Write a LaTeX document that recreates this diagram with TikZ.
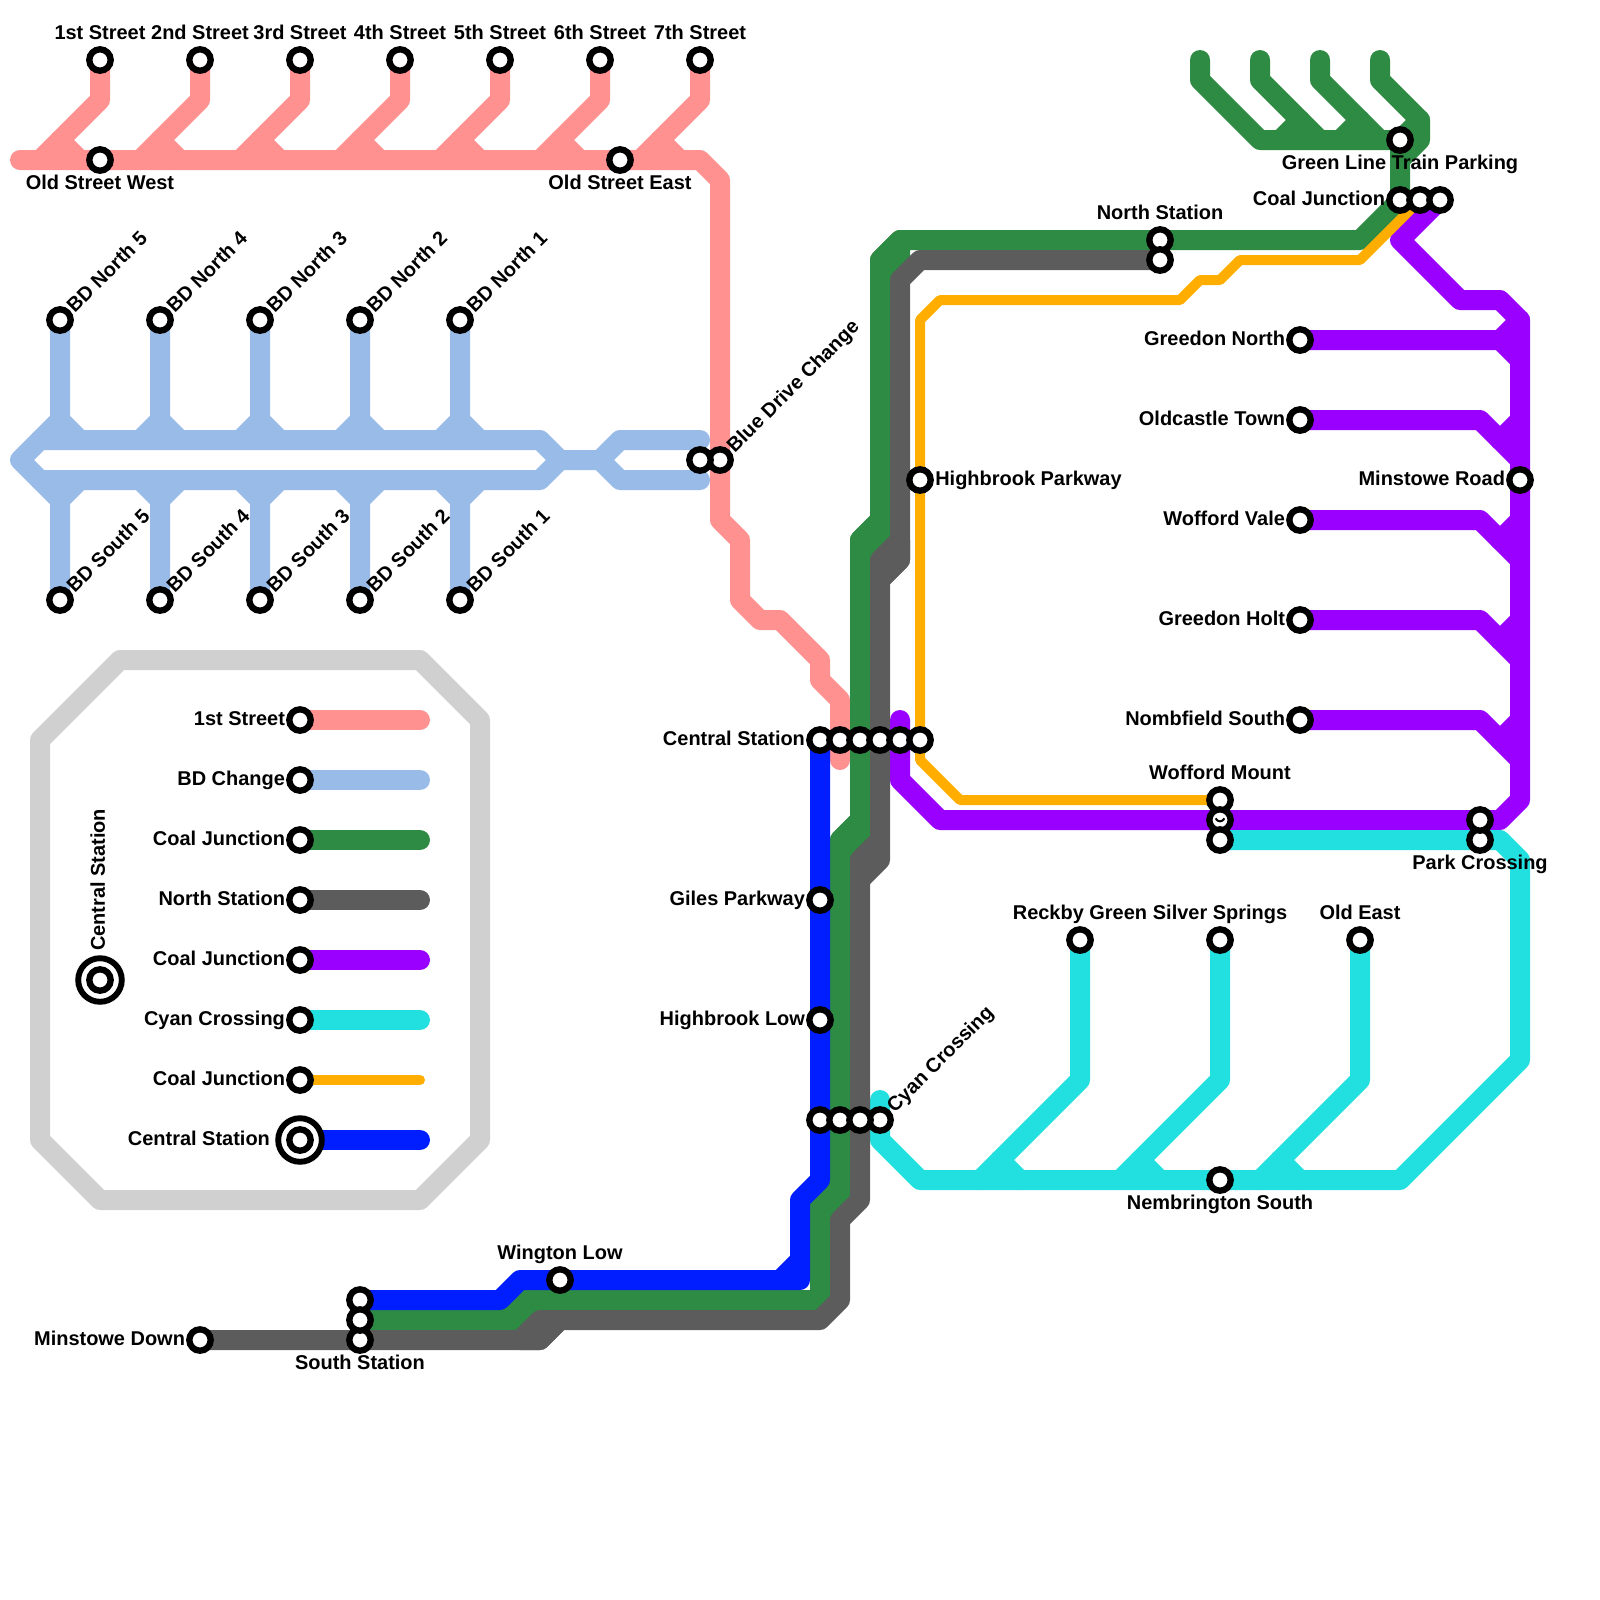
\documentclass[tikz,border=0pt]{standalone}
\usepackage{fontspec}
\setmainfont{Liberation Sans}
\usepackage{xcolor}
\definecolor{linepink}{HTML}{FF9191}
\definecolor{linesky}{HTML}{99BBE8}
\definecolor{linegreen}{HTML}{2E8B43}
\definecolor{linegrey}{HTML}{5C5C5C}
\definecolor{linepurple}{HTML}{9900FF}
\definecolor{linecyan}{HTML}{22E0E0}
\definecolor{lineorange}{HTML}{FFAE00}
\definecolor{lineblue}{HTML}{001EFF}
\definecolor{framegrey}{HTML}{D0D0D0}

\begin{document}
\begin{tikzpicture}[
  x=5mm, y=-5mm,
  every node/.style={font=\fontsize{14.2}{16}\selectfont\bfseries},
  metro/.style={line width=5mm, line cap=round, line join=round},
  thinmetro/.style={line width=2.5mm, line cap=round, line join=round},
  stn/.style={circle, draw=black, fill=white, line width=4.5pt, minimum size=15.2pt, inner sep=0pt},
  bigstn/.style={circle, draw=black, fill=white, line width=4.2pt, minimum size=31pt, inner sep=0pt},
  lblleft/.style={anchor=base east, inner sep=0pt, shift={(-10.5pt,-3.6pt)}},
  lblright/.style={anchor=base west, inner sep=0pt, shift={(10.7pt,-3.6pt)}},
  lblabove/.style={anchor=base, inner sep=0pt, shift={(0pt,14.3pt)}},
  lblbelow/.style={anchor=base, inner sep=0pt, shift={(0pt,-21.3pt)}},
  lbldiag/.style={anchor=base west, inner sep=0pt, rotate=45, shift={(10.5pt,-4.2pt)}},
]
\useasboundingbox (0,0) rectangle (80,80);

%%% Legend frame %%%
\draw[metro, framegrey] (6,33) -- (21,33) -- (24,36) -- (24,57) -- (21,60)
  -- (5,60) -- (2,57) -- (2,37) -- cycle;

%%% Lines %%%
% Pink line and its street branches
\draw[metro, linepink] (1,8) -- (35,8) -- (36,9) -- (36,26) -- (37,27) -- (37,30) -- (38,31)
  -- (39,31) -- (41,33) -- (41,34) -- (42,35) -- (42,38);
\foreach \x in {5,10,...,35} {
  \draw[metro, linepink] (\x,3) -- (\x,5) -- (\x-3,8);
  \draw[metro, linepink] (\x-2,7) -- (\x-1,8);
}

% Sky line loop and BD branches
\draw[metro, linesky] (2,22) -- (27,22) -- (28,23) -- (27,24) -- (2,24) -- (1,23) -- cycle;
\draw[metro, linesky] (28,23) -- (30,23) -- (31,22) -- (35,22);
\draw[metro, linesky] (30,23) -- (31,24) -- (35,24);
\foreach \x in {3,8,...,23} {
  \draw[metro, linesky] (\x,16) -- (\x,21) -- (\x+1,22);
  \draw[metro, linesky] (\x,21) -- (\x-1,22);
  \draw[metro, linesky] (\x,30) -- (\x,25) -- (\x+1,24);
  \draw[metro, linesky] (\x,25) -- (\x-1,24);
}

% Purple line and its branches
\draw[metro, linepurple] (45,36) -- (45,39) -- (47,41) -- (75,41) -- (76,40) -- (76,16)
  -- (75,15) -- (73,15) -- (70,12) -- (72,10);
\draw[metro, linepurple] (65,17) -- (75,17) -- (76,18);
\draw[metro, linepurple] (75,17) -- (76,16);
\foreach \y in {21,26,31,36} {
  \draw[metro, linepurple] (65,\y) -- (74,\y) -- (76,\y+2);
  \draw[metro, linepurple] (75,\y+1) -- (76,\y);
}

% Cyan line and its branches
\draw[metro, linecyan] (44,55) -- (44,57) -- (46,59) -- (70,59) -- (76,53) -- (76,43)
  -- (75,42) -- (61,42);
\foreach \x in {54,61,68} {
  \draw[metro, linecyan] (\x,47) -- (\x,54) -- (\x-5,59);
  \draw[metro, linecyan] (\x-4,58) -- (\x-3,59);
}

% Green line and the fork at the top
\draw[metro, linegreen] (18,66) -- (26,66) -- (27,65) -- (41,65) -- (41,60) -- (42,59) -- (42,42)
  -- (43,41) -- (43,27) -- (44,26) -- (44,13) -- (45,12) -- (68,12) -- (70,10) -- (70,8)
  -- (71,7) -- (71,6) -- (69,4) -- (69,3);
\draw[metro, linegreen] (60,3) -- (60,4) -- (63,7) -- (70,7);
\draw[metro, linegreen] (63,3) -- (63,4) -- (66,7);
\draw[metro, linegreen] (65,6) -- (64,7);
\draw[metro, linegreen] (66,3) -- (66,4) -- (69,7);
\draw[metro, linegreen] (68,6) -- (67,7);
\draw[metro, linegreen] (70,7) -- (70,8);
\draw[metro, linegreen] (71,6) -- (70,7);
% Fat steps, vertical runs then the one on the bottom run
\foreach \xa/\ya in {41/60,42/42,43/27,44/13} {
  \draw[metro, linegreen, fill=linegreen] (\xa,\ya) -- (\xa+1,\ya-1) -- (\xa+1,\ya) -- (\xa,\ya+1) -- cycle;
}
\draw[metro, linegreen, fill=linegreen] (25,66) -- (26,65) -- (27,65) -- (26,66) -- cycle;

% Grey line, over the green
\draw[metro, linegrey] (10,67) -- (27,67) -- (28,66) -- (41,66) -- (42,65) -- (42,61) -- (43,60)
  -- (43,43) -- (44,42) -- (44,29) -- (45,28) -- (45,14) -- (46,13) -- (58,13);
\foreach \xa/\ya in {43/43,44/28} {
  \draw[metro, linegrey, fill=linegrey] (\xa,\ya) -- (\xa+1,\ya-1) -- (\xa+1,\ya) -- (\xa,\ya+1) -- cycle;
}
\draw[metro, linegrey, fill=linegrey] (26,67) -- (27,66) -- (28,66) -- (27,67) -- cycle;

% Blue line
\draw[metro, lineblue] (18,65) -- (25,65) -- (26,64) -- (40,64) -- (40,60) -- (41,59) -- (41,37);
\draw[metro, lineblue] (39,64) -- (40,63);

% Orange line
\draw[thinmetro, lineorange] (61,40) -- (48,40) -- (46,38) -- (46,16) -- (47,15) -- (59,15)
  -- (60,14) -- (61,14) -- (62,13) -- (68,13) -- (71,10);

%%% Stations %%%
\foreach \x/\nm in {5/1st Street,10/2nd Street,15/3rd Street,20/4th Street,25/5th Street,30/6th Street,35/7th Street} {
  \node[stn] (street\x) at (\x,3) {};
  \node[lblabove] (streettext\x) at (street\x) {\nm};
}
\foreach \x/\k in {3/5,8/4,13/3,18/2,23/1} {
  \node[stn] (north\k) at (\x,16) {};
  \node[lbldiag] (northtext\k) at (north\k) {BD North \k};
  \node[stn] (south\k) at (\x,30) {};
  \node[lbldiag] (southtext\k) at (south\k) {BD South \k};
}

% Stations labelled on their left
\foreach \n/\x/\y/\nm in {
  centrallow/41/37/Central Station, giles/41/45/Giles Parkway, highlow/41/51/Highbrook Low,
  minstowedown/10/67/Minstowe Down, coal/70/10/Coal Junction, greedonn/65/17/Greedon North,
  oldcastle/65/21/Oldcastle Town, wofford/65/26/Wofford Vale, greedonh/65/31/Greedon Holt,
  nombfield/65/36/Nombfield South, minstowe/76/24/Minstowe Road} {
  \node[stn] (\n) at (\x,\y) {};
  \node[lblleft] (\n text) at (\n) {\nm};
}

% Stations labelled above
\foreach \n/\x/\y/\nm in {
  northst/58/12/North Station, wmount/61/40/Wofford Mount, wington/28/64/Wington Low,
  reckby/54/47/Reckby Green, silver/61/47/Silver Springs, oldeast/68/47/Old East} {
  \node[stn] (\n) at (\x,\y) {};
  \node[lblabove] (\n text) at (\n) {\nm};
}

% Stations labelled below
\foreach \n/\x/\y/\nm in {
  oldwest/5/8/Old Street West, oldeaststreet/31/8/Old Street East, southst/18/67/South Station,
  parking/70/7/Green Line Train Parking, park/74/42/Park Crossing, nembr/61/59/Nembrington South} {
  \node[stn] (\n) at (\x,\y) {};
  \node[lblbelow] (\n text) at (\n) {\nm};
}

% The other labelled ones
\node[stn] (highpark) at (46,24) {};
\node[lblright] (highpark text) at (highpark) {Highbrook Parkway};
\node[stn] (bluedrive) at (36,23) {};
\node[lbldiag] (bluedrive text) at (bluedrive) {Blue Drive Change};
\node[stn] (cyancross) at (44,56) {};
\node[lbldiag] (cyancross text) at (cyancross) {Cyan Crossing};

% Unlabelled neighbours of the interchanges
\foreach \n/\x/\y in {
  bd/35/23, nsb/58/13, cc/71/10, cd/72/10, ca/42/37, cb/43/37, ce/44/37, cf/45/37, cg/46/37,
  wa/61/41, wb/61/42, pa/74/41, la/41/56, lb/42/56, lc/43/56, sa/18/65, sb/18/66} {
  \node[stn] (\n) at (\x,\y) {};
}
% Mark inside the middle Wofford Mount ring
\draw[black, line width=1.4pt] (60.78,40.92) .. controls (60.9,41.12) and (61.1,41.12) .. (61.22,40.92);

%%% Legend %%%
\foreach \y/\col/\nm in {
  36/linepink/1st Street, 39/linesky/BD Change, 42/linegreen/Coal Junction,
  45/linegrey/North Station, 48/linepurple/Coal Junction, 51/linecyan/Cyan Crossing} {
  \draw[metro, \col] (15,\y) -- (21,\y);
  \node[stn] (key\y) at (15,\y) {};
  \node[lblleft] (keytext\y) at (key\y) {\nm};
}
\draw[thinmetro, lineorange] (15,54) -- (21,54);
\node[stn] (key54) at (15,54) {};
\node[lblleft] (keytext54) at (key54) {Coal Junction};
\draw[metro, lineblue] (15,57) -- (21,57);
\node[bigstn] (keybig) at (15,57) {};
\node[stn] (key57) at (15,57) {};
\node[lblleft, xshift=-10.7pt] (keytext57) at (key57) {Central Station};

% Interchange sample
\node[bigstn] (samplebig) at (5,49) {};
\node[stn] (sample) at (5,49) {};
\node[rotate=90, anchor=base west, inner sep=0pt, shift={(20.5pt,-3.5pt)}] (sampletext) at (sample) {Central Station};

\end{tikzpicture}
\end{document}
